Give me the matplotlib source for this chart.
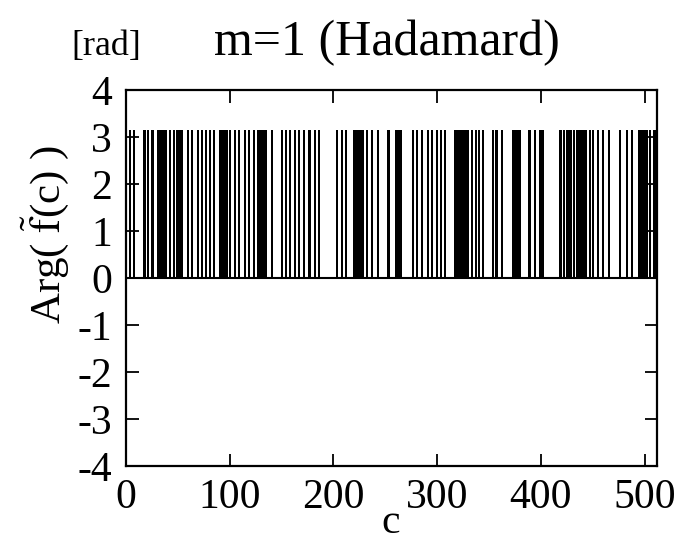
import numpy as np
import matplotlib
matplotlib.use("Agg")
import matplotlib.pyplot as plt

# c values where Arg(f~(c)) = pi (all others are 0)
c_max = 512
pi_c = [4, 8, 17, 18, 21, 25, 26, 31, 33, 34, 35, 36, 38, 39, 42, 46,
        49, 50, 51, 52, 53, 54, 60, 64, 69, 73, 77, 81, 85,
        91, 92, 93, 94, 95, 96, 97, 100, 105, 109, 115, 119, 123, 127,
        129, 131, 133, 135, 141, 150, 154, 158, 163, 167, 172,
        176, 177, 182, 186, 203, 208, 212,
        220, 221, 222, 223, 224, 225, 226, 228, 229, 232, 237, 243,
        253, 254, 260, 261, 262, 263, 264, 265,
        277, 281, 285, 291, 295, 300, 304, 308,
        317, 318, 320, 322, 323, 324, 325, 326, 328, 329, 330, 334, 337, 340,
        344, 354, 357, 358, 363, 373, 374, 375, 376, 377, 378, 379, 380,
        389, 390, 394, 399, 400, 402,
        418, 419, 422, 425, 427, 428, 429, 432, 435, 437, 438, 439, 440,
        441, 443, 444, 447, 450, 455, 460, 466, 476, 483, 488,
        495, 496, 497, 498, 499, 500, 501, 502, 505, 509, 511]
phase_value = np.pi

x_ticks = [0, 100, 200, 300, 400, 500]
y_ticks = [-4, -3, -2, -1, 0, 1, 2, 3, 4]

plt.rcParams['font.family'] = ['Liberation Serif', 'DejaVu Serif']
plt.rcParams['mathtext.fontset'] = 'stix'
plt.rcParams['axes.unicode_minus'] = False

fig = plt.figure(figsize=(6.75, 5.44), dpi=100)
ax = fig.add_axes([126/675, 1-466/544, (657-126)/675, (466-90)/544])

c = np.arange(c_max)
arg = np.zeros(c_max)
arg[pi_c] = phase_value
ax.vlines(c, 0, arg, colors='black', linewidth=1.44, antialiased=False)
ax.axhline(0, color='black', linewidth=1.5)

ax.set_xlim(0, c_max)
ax.set_ylim(-4, 4)
ax.set_xticks(x_ticks)
ax.set_yticks(y_ticks)
ax.tick_params(direction='in', length=9, width=1.3, top=True, right=True,
               labelsize=30, pad=9)
ax.tick_params(axis='y', pad=10)
for s in ax.spines.values():
    s.set_linewidth(1.6)

fig.text(387/675, 1-43/544, 'm=1 (Hadamard)', fontsize=36, ha='center', va='center')
fig.text(106/675, 1-47/544, '[rad]', fontsize=26, ha='center', va='center')
fig.text(391/675, 1-533/544, 'c', fontsize=30, ha='center', va='baseline')
fig.text(45/675, 1-234/544, r'Arg( $\tilde{\mathrm{f}}$(c) )', fontsize=31,
         ha='center', va='center', rotation=90)

fig.savefig('out.png', dpi=100)
